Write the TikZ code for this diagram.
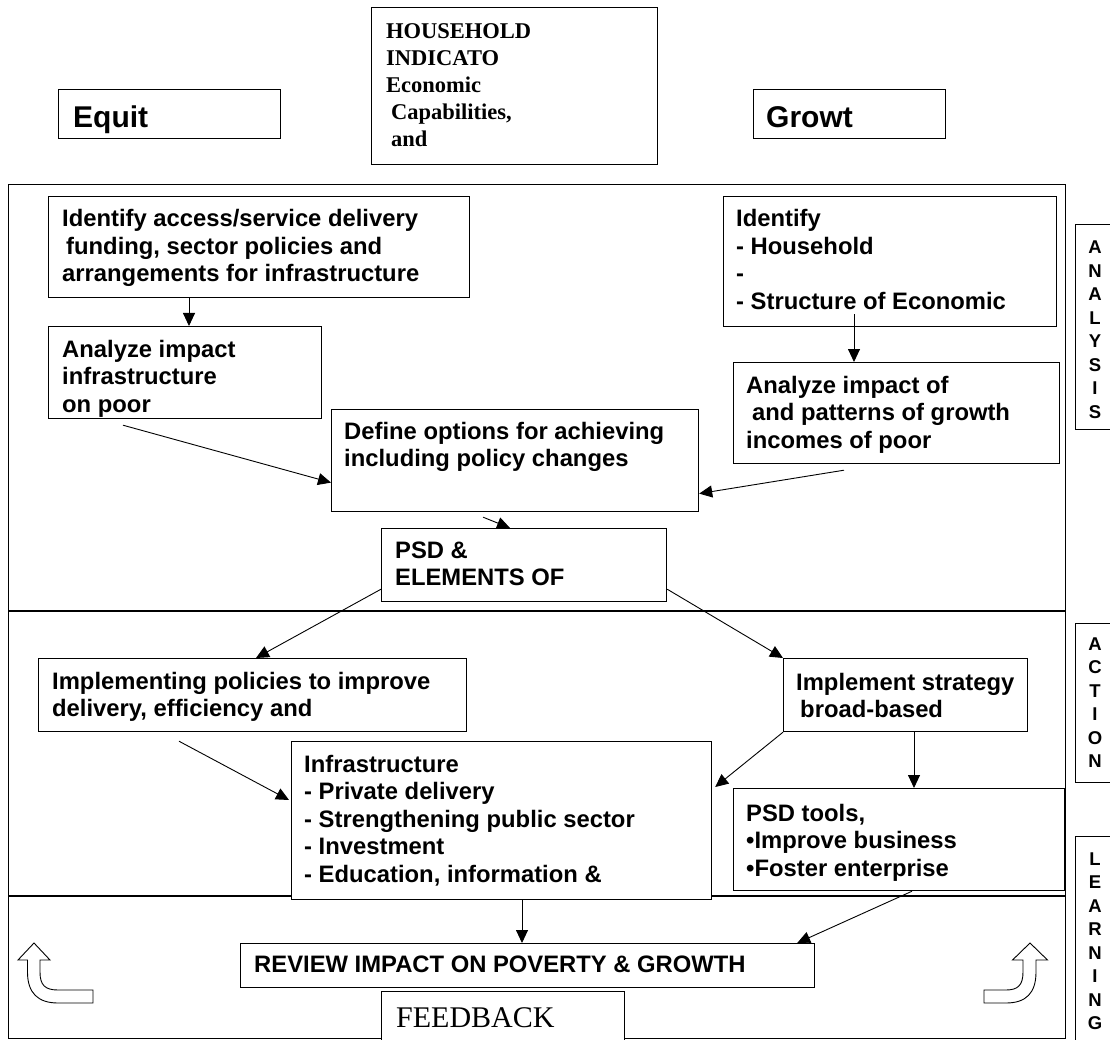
\documentclass[tikz,border=0pt]{standalone}
\usepackage{fontspec}
\newfontfamily\arialfont{Liberation Sans}
\newfontfamily\timesfont{Liberation Serif}
\usetikzlibrary{arrows.meta, calc}
% lines of a box, with the node's baseline on the first one
\newcommand{\boxlines}[1]{\begin{tabular}[t]{@{}l@{}}#1\end{tabular}}
\newcommand{\sidelines}[1]{\begin{tabular}[t]{@{}c@{}}#1\end{tabular}}
\tikzset{
    % outlined boxes of the chart
    panel/.style={draw, line width=1.2pt, fill=white, anchor=north west, inner sep=0pt},
    % text, placed by the baseline of its first line
    txt/.style={font=\arialfont\bfseries\fontsize{23.8}{27.5}\selectfont, inner sep=0pt, anchor=base west},
    headtxt/.style={txt, font=\arialfont\bfseries\fontsize{30}{31}\selectfont},
    serif/.style={font=\timesfont\bfseries\fontsize{22.5}{27}\selectfont, inner sep=0pt, anchor=base west},
    sidetxt/.style={font=\arialfont\bfseries\fontsize{18.5}{23.5}\selectfont, inner sep=0pt, anchor=base},
    % connectors between the boxes
    link/.style={line width=0.9pt, -{Triangle[length=13pt, width=12pt]}},
    bendarrow/.style={draw, line width=0.9pt, fill=white}
}
\begin{document}
\begin{tikzpicture}[x=1pt, y=-1pt]
    \useasboundingbox (0,0) rectangle (1110,1040);

    % frame and the three bands
    \node[draw, line width=1.2pt, anchor=north west, inner sep=0pt,
          minimum width=1057pt, minimum height=854pt] (frame) at (8,184) {};
    \draw[line width=1.2pt] (8,611) -- (1065,611);
    \draw[line width=1.2pt] (8,896) -- (1065,896);

    % heading boxes
    \node[panel, minimum width=222pt, minimum height=49pt] (equit) at (58,89) {};
    \node[headtxt] (equitT) at (73,128) {Equit};
    \node[panel, minimum width=192pt, minimum height=49pt] (growt) at (753,89) {};
    \node[headtxt] (growtT) at (766,128) {Growt};
    \node[panel, minimum width=286pt, minimum height=157pt] (house) at (371,7) {};
    \node[serif] (houseT) at (386,39) {\boxlines{HOUSEHOLD\\INDICATO\\Economic\\\hspace{5pt}Capabilities,\\\hspace{5pt}and}};

    % side labels
    \node[panel, minimum width=50pt, minimum height=205pt] (analysis) at (1075,224) {};
    \node[sidetxt] (analysisT) at (1095,254) {\sidelines{A\\N\\A\\L\\Y\\S\\I\\S}};
    \node[panel, minimum width=50pt, minimum height=159pt] (action) at (1075,623) {};
    \node[sidetxt] (actionT) at (1095,650) {\sidelines{A\\C\\T\\I\\O\\N}};
    \node[panel, minimum width=50pt, minimum height=214pt] (learning) at (1075,836) {};
    \node[sidetxt] (learningT) at (1095,865) {\sidelines{L\\E\\A\\R\\N\\I\\N\\G}};

    % analysis band
    \node[panel, minimum width=421pt, minimum height=101pt] (idacc) at (48,196) {};
    \node[txt] (idaccT) at (62,227) {\boxlines{Identify access/service delivery\\\hspace{4pt}funding, sector policies and\\arrangements for infrastructure}};
    \node[panel, minimum width=273pt, minimum height=92pt] (anaL) at (48,326) {};
    \node[txt] (anaLT) at (62,357) {\boxlines{Analyze impact\\infrastructure\\on poor}};
    \node[panel, minimum width=333pt, minimum height=130pt] (idR) at (723,196) {};
    \node[txt] (idRT) at (736,227) {\boxlines{Identify\\- Household\\-\\- Structure of Economic}};
    \node[panel, minimum width=326pt, minimum height=101pt] (anaR) at (733,362) {};
    \node[txt] (anaRT) at (746,393) {\boxlines{Analyze impact of\\\hspace{6pt}and patterns of growth\\incomes of poor}};
    \node[panel, minimum width=367pt, minimum height=102pt] (define) at (331,409) {};
    \node[txt] (defineT) at (344,439) {\boxlines{Define options for achieving\\including policy changes}};
    \node[panel, minimum width=285pt, minimum height=73pt] (psd) at (381,528) {};
    \node[txt] (psdT) at (395,558) {\boxlines{PSD \&\\ELEMENTS OF}};

    % action band
    \node[panel, minimum width=428pt, minimum height=73pt] (implL) at (38,658) {};
    \node[txt] (implLT) at (52,689) {\boxlines{Implementing policies to improve\\delivery, efficiency and}};
    \node[panel, minimum width=244pt, minimum height=73pt] (implR) at (783,658) {};
    \node[txt] (implRT) at (796,690) {\boxlines{Implement strategy\\\hspace{4pt}broad-based}};
    \node[panel, minimum width=420pt, minimum height=158pt] (infra) at (291,741) {};
    \node[txt] (infraT) at (304,772) {\boxlines{Infrastructure\\- Private delivery\\- Strengthening public sector\\- Investment\\- Education, information \&}};
    \node[panel, minimum width=331pt, minimum height=102pt] (tools) at (733,788) {};
    \node[txt] (toolsT) at (746,821) {\boxlines{PSD tools,\\\textbullet Improve business\\\textbullet Foster enterprise}};

    % learning band
    \node[panel, minimum width=574pt, minimum height=44pt] (review) at (240,943) {};
    \node[txt] (reviewT) at (254,972) {REVIEW IMPACT ON POVERTY \& GROWTH};
    \node[panel, minimum width=243pt, minimum height=60pt] (feedback) at (381,991) {};
    \node[txt, font=\timesfont\fontsize{30}{31}\selectfont] (feedbackT) at (396,1027) {FEEDBACK};

    % connectors
    \draw[link] ($(idacc.south west)+(141,0)$) -- ($(anaL.north west)+(141,0)$);
    \draw[link] ($(idR.south west)+(131,-13)$) -- ($(anaR.north west)+(121,0)$);
    \draw[link] ($(anaL.south west)+(75,6)$) -- ($(define.west)+(0,22)$);
    \draw[link] ($(anaR.south west)+(111,6)$) -- ($(define.east)+(0,33)$);
    \draw[link] ($(define.south)+(-32,5)$) -- ($(psd.north west)+(129,0)$);
    \draw[link] ($(psd.south west)+(0,-13)$) -- ($(implL.north west)+(218,0)$);
    \draw[link] ($(psd.south east)+(0,-13)$) -- (implR.north west);
    \draw[link] ($(implL.south west)+(141,9)$) -- ($(infra.north west)+(-2,59)$);
    \draw[link] (implR.south west) -- ($(infra.north east)+(3,46)$);
    \draw[link] ($(implR.south west)+(131,0)$) -- ($(tools.north west)+(181,0)$);
    \draw[link] ($(infra.south west)+(231,0)$) -- ($(review.north west)+(282,0)$);
    \draw[link] ($(tools.south west)+(179,0)$) -- ($(review.north east)+(-18,0)$);

    % feedback arrows
    \draw[bendarrow] (34,943) -- (50,960) -- (40,960) -- (40,972)
        .. controls (40,985) and (45,990) .. (58,990) -- (93,990) -- (93,1003) -- (58,1003)
        .. controls (38,1003) and (27.5,993) .. (27.5,972) -- (27.5,960) -- (18,960) -- cycle;
    \draw[bendarrow] (1030,943) -- (1047.5,960) -- (1036,960) -- (1036,972)
        .. controls (1036,993) and (1026,1003) .. (1006,1003) -- (984,1003) -- (984,990) -- (1006,990)
        .. controls (1018,990) and (1023,985) .. (1023,972) -- (1023,960) -- (1012.5,960) -- cycle;
\end{tikzpicture}
\end{document}
